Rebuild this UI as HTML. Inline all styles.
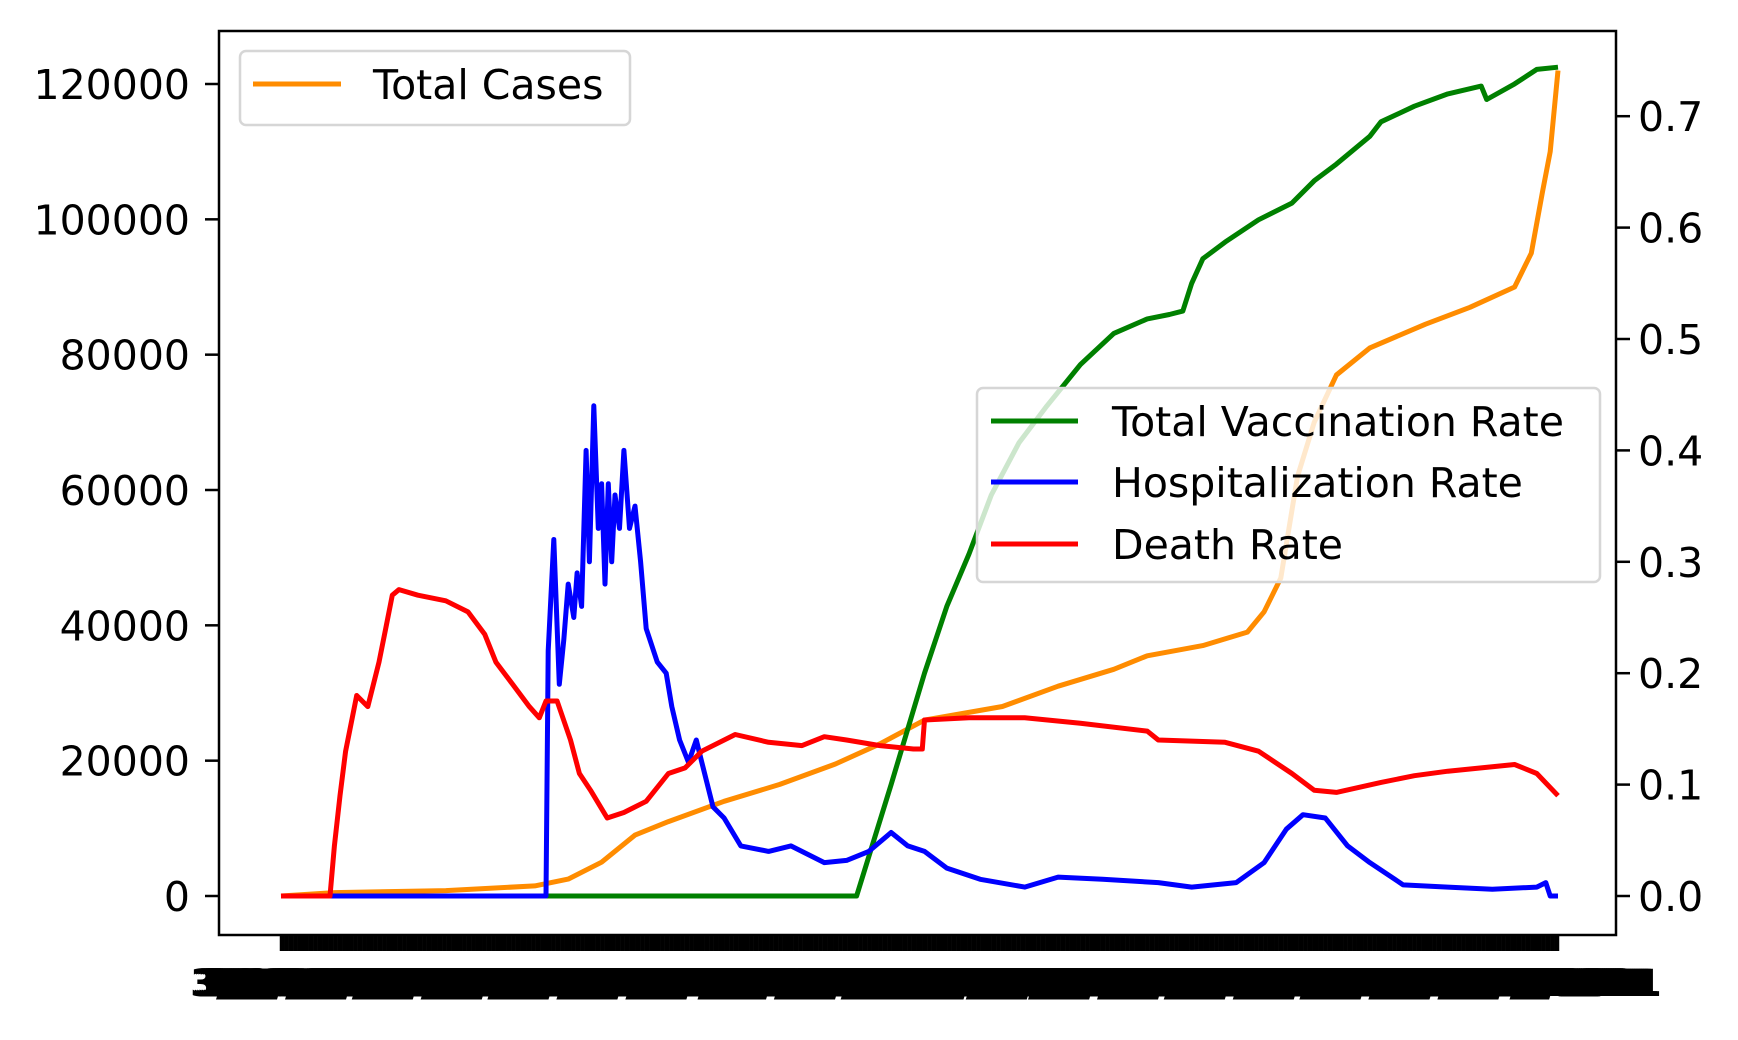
<!DOCTYPE html>
<html><head><meta charset="utf-8"><style>
html,body{margin:0;padding:0;background:#fff;}
svg text{font-family:"DejaVu Sans","Liberation Sans",sans-serif;}
</style></head><body>
<svg id="chart" width="1738" height="1035" viewBox="0 0 1738 1035" xmlns="http://www.w3.org/2000/svg">
<g id="xlabels"></g>
<g id="series"></g>
<rect x="219" y="31" width="1397" height="904" fill="none" stroke="#000" stroke-width="2.5"/>
<g id="yleft"></g>
<g id="yright"></g>
<g>
<rect x="240" y="51" width="390" height="74" rx="6" fill="#fff" fill-opacity="0.8" stroke="#d6d6d6" stroke-width="2.5"/>
<line x1="253" y1="84" x2="341" y2="84" stroke="darkorange" stroke-width="5"/>
<text x="373" y="99" font-size="41">Total Cases</text>
</g>
<g>
<rect x="977" y="388" width="623" height="194" rx="6" fill="#fff" fill-opacity="0.8" stroke="#d6d6d6" stroke-width="2.5"/>
<line x1="991" y1="421" x2="1078" y2="421" stroke="green" stroke-width="5"/>
<text x="1112" y="436" font-size="41">Total Vaccination Rate</text>
<line x1="991" y1="482" x2="1078" y2="482" stroke="blue" stroke-width="5"/>
<text x="1112" y="497" font-size="41">Hospitalization Rate</text>
<line x1="991" y1="544" x2="1078" y2="544" stroke="red" stroke-width="5"/>
<text x="1112" y="559" font-size="41">Death Rate</text>
</g>
</svg>
<script>
const casesDays=[0,48,148,228,258,288,318,348,398,448,498,538,578,648,698,748,778,828,868,883,898,913,928,948,978,1028,1068,1108,1123,1133,1140,1147];
const casesVals=[0,500,800,1500,2500,5000,9000,11000,14000,16500,19500,22500,26000,28000,31000,33500,35500,37000,39000,42000,47000,62000,70000,77000,81000,84500,87000,90000,95000,104000,110000,122000];
const vaxDays=[0,517,548,578,598,618,638,663,688,718,748,778,798,810,818,828,848,878,908,928,948,978,988,1018,1048,1078,1083,1108,1128,1147];
const vaxVals=[0,0,0.1,0.2,0.26,0.307,0.36,0.407,0.44,0.477,0.505,0.518,0.522,0.525,0.55,0.572,0.587,0.607,0.622,0.642,0.657,0.682,0.695,0.709,0.72,0.727,0.715,0.729,0.742,0.744];
const hospDays=[0,238,240,245,250,254,258,263,266,270,274,277,281,285,288,291,294,297,300,304,308,313,318,323,328,338,346,351,358,366,373,378,388,398,413,438,458,488,508,528,548,563,578,598,628,668,698,738,788,818,858,883,903,918,938,958,978,1008,1048,1088,1128,1136,1140,1147];
const hospVals=[0,0,0.22,0.32,0.19,0.23,0.28,0.25,0.29,0.26,0.40,0.30,0.44,0.33,0.37,0.28,0.37,0.30,0.36,0.33,0.40,0.33,0.35,0.30,0.24,0.21,0.20,0.17,0.14,0.12,0.14,0.12,0.08,0.07,0.045,0.04,0.045,0.03,0.032,0.04,0.057,0.045,0.04,0.025,0.015,0.008,0.017,0.015,0.012,0.008,0.012,0.03,0.06,0.073,0.07,0.045,0.03,0.01,0.008,0.006,0.008,0.012,0,0];
const deathDays=[0,44,48,53,58,68,78,88,94,100,106,123,148,168,183,193,208,223,232,238,248,260,268,278,293,308,328,348,363,378,408,438,468,488,508,538,568,576,578,618,668,718,778,788,848,878,908,928,948,988,1018,1048,1088,1108,1128,1147];
const deathVals=[0,0,0.045,0.09,0.13,0.18,0.17,0.21,0.24,0.27,0.275,0.27,0.265,0.255,0.235,0.21,0.19,0.17,0.16,0.175,0.175,0.14,0.11,0.095,0.07,0.075,0.085,0.11,0.115,0.13,0.145,0.138,0.135,0.143,0.14,0.135,0.132,0.132,0.158,0.16,0.16,0.155,0.148,0.14,0.138,0.13,0.11,0.095,0.093,0.102,0.108,0.112,0.116,0.118,0.11,0.09];
const leftTicks=[0,20000,40000,60000,80000,100000,120000];
const rightTicks=[0,0.1,0.2,0.3,0.4,0.5,0.6,0.7];
const dayMax=1147;
const NS="http://www.w3.org/2000/svg";
const xS=d=>281+d*(1558-281)/dayMax;
const yL=v=>896-v/120000*812;
const yR=r=>896-r*1114;
function line(days,vals,ys,color,name){
  const p=document.createElementNS(NS,'polyline');
  p.setAttribute('points',days.map((d,i)=>xS(d).toFixed(1)+','+ys(vals[i]).toFixed(1)).join(' '));
  p.setAttribute('fill','none');p.setAttribute('stroke',color);p.setAttribute('stroke-width','5');
  p.setAttribute('stroke-linejoin','round');
  
  
  document.getElementById('series').appendChild(p);
}
line(casesDays,casesVals,yL,'darkorange','total-cases-line');
line(vaxDays,vaxVals,yR,'green','vaccination-rate-line');
line(hospDays,hospVals,yR,'blue','hospitalization-rate-line');
line(deathDays,deathVals,yR,'red','death-rate-line');
const gl=document.getElementById('yleft');
leftTicks.forEach(v=>{
  const y=yL(v);
  const t=document.createElementNS(NS,'line');
  t.setAttribute('x1',205);t.setAttribute('x2',219);t.setAttribute('y1',y);t.setAttribute('y2',y);t.setAttribute('stroke','#000');t.setAttribute('stroke-width','2.5');
  gl.appendChild(t);
  const tx=document.createElementNS(NS,'text');
  tx.setAttribute('x',190);tx.setAttribute('y',y+15);tx.setAttribute('text-anchor','end');tx.setAttribute('font-size','41');
  tx.textContent=v;
  
  
  gl.appendChild(tx);
});
const gr=document.getElementById('yright');
rightTicks.forEach(v=>{
  const y=yR(v);
  const t=document.createElementNS(NS,'line');
  t.setAttribute('x1',1616);t.setAttribute('x2',1630);t.setAttribute('y1',y);t.setAttribute('y2',y);t.setAttribute('stroke','#000');t.setAttribute('stroke-width','2.5');
  gr.appendChild(t);
  const tx=document.createElementNS(NS,'text');
  tx.setAttribute('x',1638);tx.setAttribute('y',y+15);tx.setAttribute('font-size','41');
  tx.textContent=v.toFixed(1);
  
  
  gr.appendChild(tx);
});
const gx=document.getElementById('xlabels');
const nLab=575;
const start=new Date(2020,2,1);
for(let i=0;i<nLab;i++){
  const d=i*dayMax/(nLab-1);
  const x=xS(d);
  const t=document.createElementNS(NS,'line');
  t.setAttribute('x1',x);t.setAttribute('x2',x);t.setAttribute('y1',935);t.setAttribute('y2',951);t.setAttribute('stroke','#000');t.setAttribute('stroke-width','2.5');
  gx.appendChild(t);
  const dt=new Date(start.getTime()+i*86400000);
  const tx=document.createElementNS(NS,'text');
  tx.setAttribute('x',x);tx.setAttribute('y',996);tx.setAttribute('text-anchor','middle');tx.setAttribute('font-size','37');tx.setAttribute('font-weight','bold');
  tx.textContent=(dt.getMonth()+1)+'/'+dt.getDate()+'/'+dt.getFullYear();
  
  
  gx.appendChild(tx);
}
</script>
</body></html>
